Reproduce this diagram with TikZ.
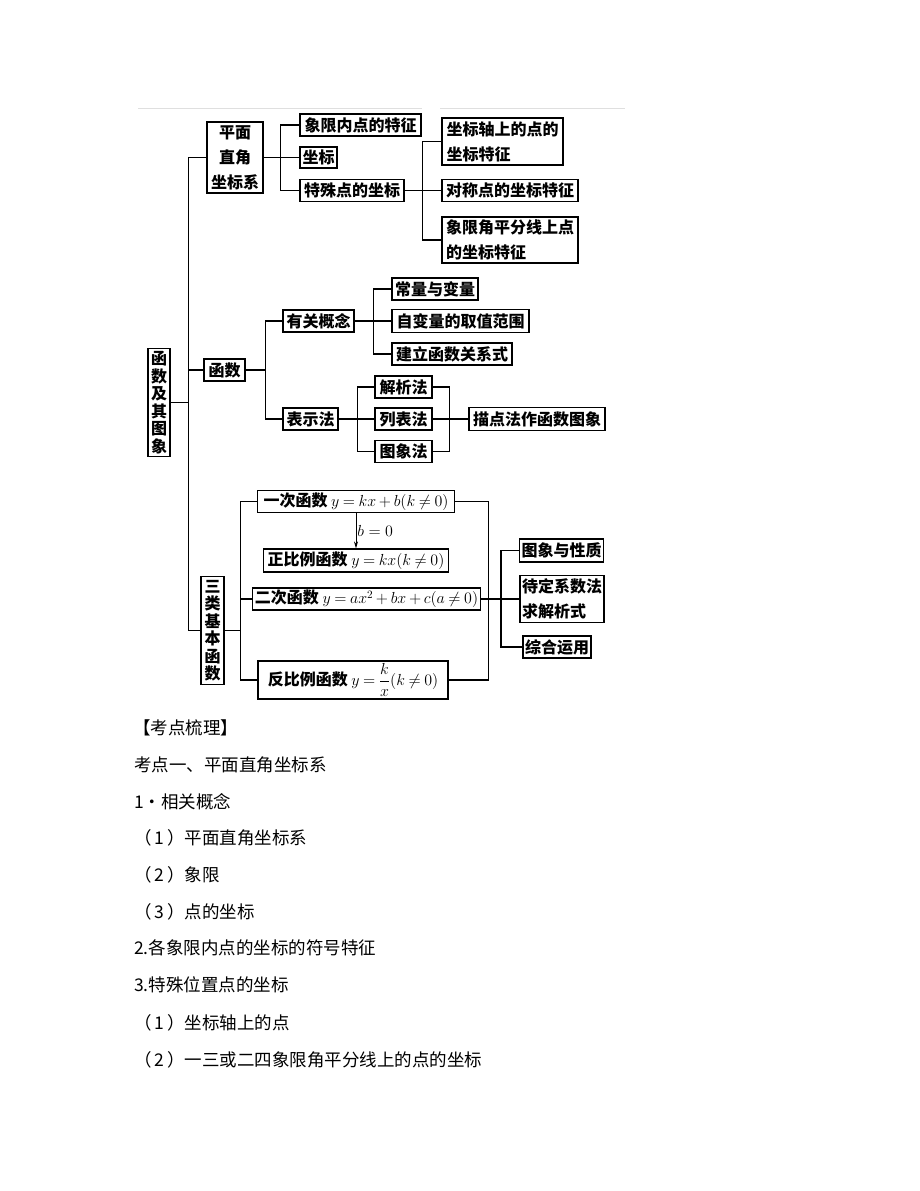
\RequirePackage{fix-cm}
\documentclass[tikz,border=0pt]{standalone}
\usepackage{amsmath}
\usepackage{fontspec}
\newfontfamily\cjk{Noto Sans CJK SC}
\usetikzlibrary{arrows.meta}

\begin{document}
\begin{tikzpicture}[x=1pt, y=-1pt,
        box/.style={draw, line width=1.2pt, inner sep=2pt, font=\fontsize{16}{25}\cjk\bfseries},
        mathbox/.style={box, execute at begin node={\thickmuskip=4mu\relax\medmuskip=3mu\relax}},
        colbox/.style={box, align=center, inner sep=3pt, font=\fontsize{16}{17.5}\cjk\bfseries},
        link/.style={line width=1.2pt},
        body/.style={anchor=west, inner sep=0pt, font=\fontsize{17.5}{20}\cjk}]
        \useasboundingbox (0,0) rectangle (920,1191);

        % faint rule at the top
        \draw[gray!25, line width=1pt] (138,108) -- (422,108);
        \draw[gray!25, line width=1pt] (440,108) -- (625,108);

        % root and the three main branches
        \node[colbox, minimum width=22, minimum height=105] (root) at (159,402.5) {函\\数\\及\\其\\图\\象};
        \node[box, align=center, minimum width=56, minimum height=71] (pm) at (235,157.5) {平面\\直角\\坐标系};
        \node[box, minimum width=41, minimum height=22] (hs) at (224.5,370) {函数};
        \node[colbox, minimum width=23, minimum height=105] (sl) at (212.5,630.5) {三\\类\\基\\本\\函\\数};

        \draw[link] (root.east) -- ++(18,0) coordinate (m);
        \draw[link] (pm.west) -| (m) |- (sl.west);
        \draw[link] (hs.west) -- (hs.west -| m);

        % plane coordinate system
        \node[box, minimum width=121, minimum height=22] (a1) at (360.5,125) {象限内点的特征};
        \node[box, minimum width=37, minimum height=21] (a2) at (318.5,157.5) {坐标};
        \node[box, minimum width=104, minimum height=22] (a3) at (352,190.5) {特殊点的坐标};
        \node[box, align=left, minimum width=121, minimum height=47] (b1) at (502.5,141.5) {坐标轴上的点的\\坐标特征};
        \node[box, minimum width=136, minimum height=22] (b2) at (510,190.5) {对称点的坐标特征};
        \node[box, align=left, minimum width=136, minimum height=46] (b3) at (510,240) {象限角平分线上点\\的坐标特征};

        \draw[link] (pm.east) -- (a2.west);
        \draw[link] (a1.west) -- ++(-19,0) |- (a3.west);
        \draw[link] (a3.east) -- (b2.west);
        \draw[link] (b1.west) -- ++(-19,0) |- (b3.west);

        % functions
        \node[box, minimum width=71, minimum height=22] (gg) at (318.5,321) {有关概念};
        \node[box, minimum width=55, minimum height=22] (bs) at (310.5,419) {表示法};
        \node[box, minimum width=86, minimum height=22] (c1) at (435,289) {常量与变量};
        \node[box, minimum width=137, minimum height=23] (c2) at (460.5,321) {自变量的取值范围};
        \node[box, minimum width=120, minimum height=22] (c3) at (452,354) {建立函数关系式};
        \node[box, minimum width=57, minimum height=22] (d1) at (403.5,387) {解析法};
        \node[box, minimum width=57, minimum height=22] (d2) at (403.5,419) {列表法};
        \node[box, minimum width=57, minimum height=22] (d3) at (403.5,451.5) {图象法};
        \node[box, minimum width=136, minimum height=23] (e) at (537,419) {描点法作函数图象};

        \draw[link] (hs.east) -- ++(20,0) coordinate (j3);
        \draw[link] (gg.west) -| (j3) |- (bs.west);
        \draw[link] (gg.east) -- (c2.west);
        \draw[link] (c1.west) -- ++(-18,0) |- (c3.west);
        \draw[link] (bs.east) -- (d2.west);
        \draw[link] (d1.west) -- ++(-17,0) |- (d3.west);
        \draw[link] (d1.east) -- ++(17,0) |- (d3.east);
        \draw[link] (d2.east) -- (e.west);

        % three basic functions
        \node[mathbox, minimum width=197, minimum height=21] (f1) at (356,501.5) {一次函数 $y=kx+b(k\neq0)$};
        \node[mathbox, minimum width=185, minimum height=23] (f3) at (356,560.5) {正比例函数 $y=kx(k\neq0)$};
        \node[mathbox, minimum width=217, minimum height=22] (f2) at (366.5,599) {二次函数 $y=ax^2+bx+c(a\neq0)$};
        \node[mathbox, minimum width=190, minimum height=38] (f4) at (353,680) {反比例函数 $y=\dfrac{k}{x}(k\neq0)$};
        \node[box, minimum width=75, minimum height=23] (g1) at (561.5,550.5) {图象与性质};
        \node[box, align=left, minimum width=76, minimum height=47] (g2) at (562,599) {待定系数法\\求解析式};
        \node[box, minimum width=66, minimum height=22] (g3) at (557,647) {综合运用};

        \draw[link] (sl.east) -- ++(16,0) coordinate (j6);
        \draw[link] (f1.west) -| (j6) |- (f4.west);
        \draw[link] (f2.west) -- (f2.west -| j6);
        \draw[-{Stealth[length=7pt, width=4pt]}, line width=0.8pt] (f1.south) -- node[right, inner sep=1pt, font=\fontsize{16}{16}\selectfont] {$b=0$} (f3.north);
        \draw[link] (f1.east) -- ++(33,0) |- (f4.east);
        \draw[link] (f2.east) -- (g2.west);
        \draw[link] (g1.west) -- ++(-18,0) |- (g3.west);

        % notes below the chart
        \node[body] (t0) at (133,728) {【考点梳理】};
        \node[body] (t1) at (134,765) {考点一、平面直角坐标系};
        \node[body] (t2) at (134,802) {1·相关概念};
        \node[body] (t3) at (134,838) {（\hspace{3pt}1\hspace{3pt}）平面直角坐标系};
        \node[body] (t4) at (134,875) {（\hspace{3pt}2\hspace{3pt}）象限};
        \node[body] (t5) at (134,912) {（\hspace{3pt}3\hspace{3pt}）点的坐标};
        \node[body] (t6) at (134,948) {2.各象限内点的坐标的符号特征};
        \node[body] (t7) at (134,985) {3.特殊位置点的坐标};
        \node[body] (t8) at (134,1023) {（\hspace{3pt}1\hspace{3pt}）坐标轴上的点};
        \node[body] (t9) at (134,1060) {（\hspace{3pt}2\hspace{3pt}）一三或二四象限角平分线上的点的坐标};
    \end{tikzpicture}
\end{document}
